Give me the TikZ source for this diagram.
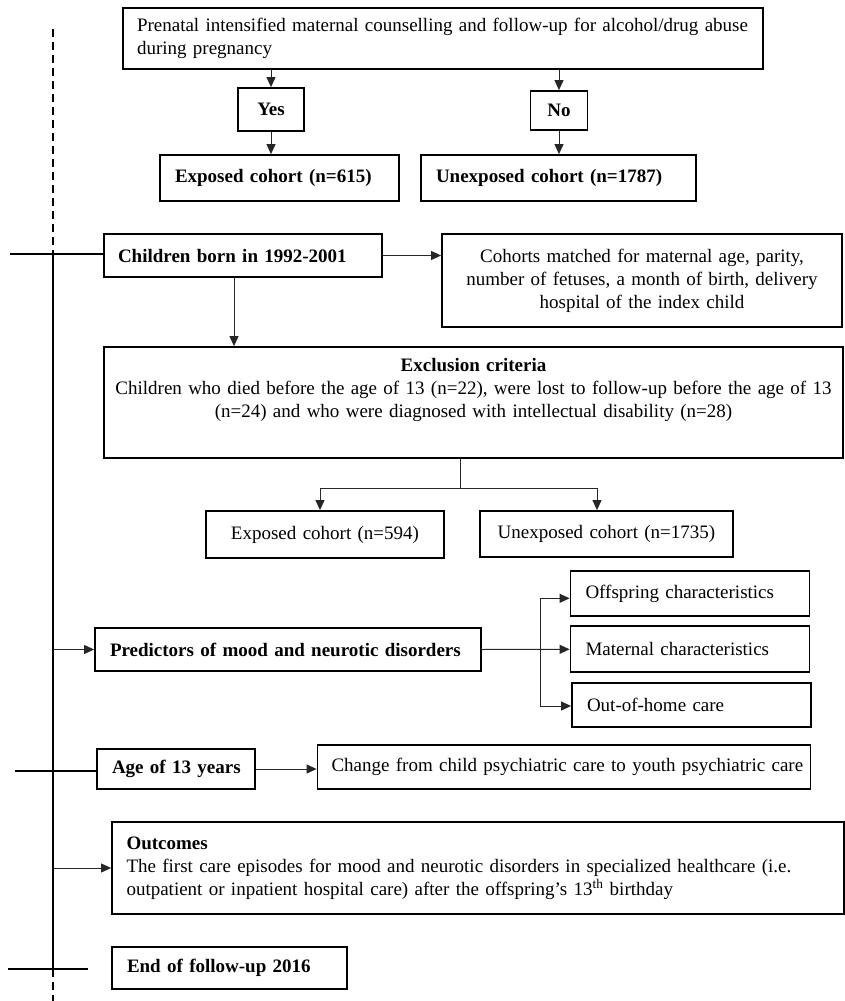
\documentclass[tikz,border=0pt]{standalone}
\usepackage{fontspec}
\setmainfont{Liberation Serif}
\usetikzlibrary{arrows.meta}
\begin{document}
\begin{tikzpicture}[x=1pt,y=-1pt,
  box/.style={draw, line width=1.8pt, inner xsep=14pt, inner ysep=0pt, align=left,
    font=\fontsize{19}{23}\selectfont},
  cbox/.style={box, align=center},
  bbox/.style={box, font=\fontsize{19}{23}\selectfont\bfseries},
  conn/.style={line width=1pt, draw=black!85},
  arr/.style={conn, -{Triangle[length=10pt,width=9pt]}},
  tick/.style={line width=2.2pt},
  tline/.style={line width=1.6pt},
  tdash/.style={line width=2pt, dash pattern=on 8pt off 5pt}]
\useasboundingbox (0,0) rectangle (844,1001);

% boxes
\node[box, minimum width=640pt, minimum height=61pt, text width=612pt] (top) at (443,38.5)
  {\mbox{Prenatal intensified maternal counselling and follow-up for alcohol/drug abuse}\\during pregnancy};
\node[bbox, align=center, inner xsep=0pt, minimum width=66pt, minimum height=43pt] (yes) at (271,109.5) {Yes};
\node[bbox, align=center, inner xsep=0pt, minimum width=57pt, minimum height=39pt] (no) at (559,110.5) {No};
\node[bbox, minimum width=239pt, minimum height=46pt, text width=209pt, inner xsep=15pt] (exp1) at (279.5,178) {\mbox{Exposed cohort (n=615)}};
\node[bbox, minimum width=275pt, minimum height=46pt, text width=245pt, inner xsep=15pt] (unexp1) at (558.5,178) {\mbox{Unexposed cohort (n=1787)}};

\node[bbox, minimum width=278pt, minimum height=43pt, text width=250pt] (children) at (243,255.5) {\mbox{Children born in 1992-2001}};
\node[cbox, minimum width=400pt, minimum height=93pt, text width=372pt] (cohorts) at (642,280.5)
  {Cohorts matched for maternal age, parity,\\number of fetuses, a month of birth, delivery\\hospital of the index child};
\node[cbox, inner xsep=6pt, minimum width=739pt, minimum height=111pt, text width=727pt] (excl) at (473.5,402.5)
  {\textbf{Exclusion criteria}\\\mbox{Children who died before the age of 13 (n=22), were lost to follow-up before the age of 13}\\\mbox{(n=24) and who were diagnosed with intellectual disability (n=28)}\\\strut};
\node[cbox, inner xsep=4pt, minimum width=238pt, minimum height=47pt, text width=230pt] (exp2) at (325,534.5) {Exposed cohort (n=594)};
\node[cbox, inner xsep=4pt, minimum width=253pt, minimum height=46pt, text width=245pt] (unexp2) at (606.5,534) {Unexposed cohort (n=1735)};

\node[bbox, minimum width=386pt, minimum height=43pt, text width=356pt, inner xsep=15pt] (pred) at (288,649.5) {\mbox{Predictors of mood and neurotic disorders}};
\node[box, minimum width=239pt, minimum height=45pt, text width=209pt, inner xsep=15pt] (offs) at (690,593.5) {\mbox{Offspring characteristics}};
\node[box, minimum width=239pt, minimum height=46pt, text width=209pt, inner xsep=15pt] (mat) at (690,649) {\mbox{Maternal characteristics}};
\node[box, minimum width=239pt, minimum height=44pt, text width=209pt, inner xsep=15pt] (ooh) at (691.5,705) {\mbox{Out-of-home care}};

\node[bbox, minimum width=158pt, minimum height=40pt, text width=128pt, inner xsep=15pt] (age) at (176,769) {\mbox{Age of 13 years}};
\node[box, minimum width=493pt, minimum height=44pt, text width=465pt] (change) at (564,767) {\mbox{Change from child psychiatric care to youth psychiatric care}};

\node[box, minimum width=732pt, minimum height=92pt, text width=703pt, inner xsep=14.5pt] (outc) at (478,868)
  {\textbf{Outcomes}\\\mbox{The first care episodes for mood and neurotic disorders in specialized healthcare (i.e.}\\\mbox{outpatient or inpatient hospital care) after the offspring’s 13\textsuperscript{th} birthday}};
\node[bbox, minimum width=235pt, minimum height=42pt, text width=205pt, inner xsep=15pt] (endf) at (229.5,968) {\mbox{End of follow-up 2016}};

% timeline
\coordinate (tTop) at (53,29);
\coordinate (tA) at (53,254.3);
\coordinate (tB) at (53,969.3);
\coordinate (tBot) at (53,1001);
\coordinate (k1a) at (10,254.3);
\coordinate (k2a) at (15,771);
\coordinate (k3a) at (8,969.3);
\coordinate (k3b) at (88,969.3);
\draw[tdash] (tTop) -- (tA);
\draw[tline] (tA) -- (tB);
\draw[tdash] (tB) -- (tBot);
\draw[tick] (k1a) -- (k1a -| children.west);
\draw[tick] (k2a) -- (k2a -| age.west);
\draw[tick] (k3a) -- (k3b);
\draw[arr] (tA |- pred.west) -- (pred.west);
\draw[arr] (tA |- outc.west) -- (outc.west);

% top connectors
\draw[arr] (yes |- top.south) -- (yes.north);
\draw[arr] (yes.south) -- (yes.south |- exp1.north);
\draw[arr] (no |- top.south) -- (no.north);
\draw[arr] (no.south) -- (no.south |- unexp1.north);

% children
\draw[arr] (children.east) -- (children.east -| cohorts.west);
\coordinate (cdown) at (234,277);
\draw[arr] (cdown |- children.south) -- (cdown |- excl.north);

% exclusion split
\coordinate (split) at (460,488.3);
\coordinate (b1) at (320,488.3);
\coordinate (b2) at (597,488.3);
\draw[conn] (split |- excl.south) -- (split);
\draw[conn] (b1) -- (b2);
\draw[arr] (b1) -- (b1 |- exp2.north);
\draw[arr] (b2) -- (b2 |- unexp2.north);

% predictors branch
\coordinate (br) at (540,649.3);
\coordinate (brT) at (540,598.3);
\coordinate (brB) at (540,706);
\draw[arr] (pred.east) -- (br) -- (br -| mat.west);
\draw[conn] (brT) -- (brB);
\draw[arr] (brT) -- (brT -| offs.west);
\draw[arr] (brB) -- (brB -| ooh.west);

% age
\draw[arr] (age.east) -- (age.east -| change.west);
\end{tikzpicture}
\end{document}
